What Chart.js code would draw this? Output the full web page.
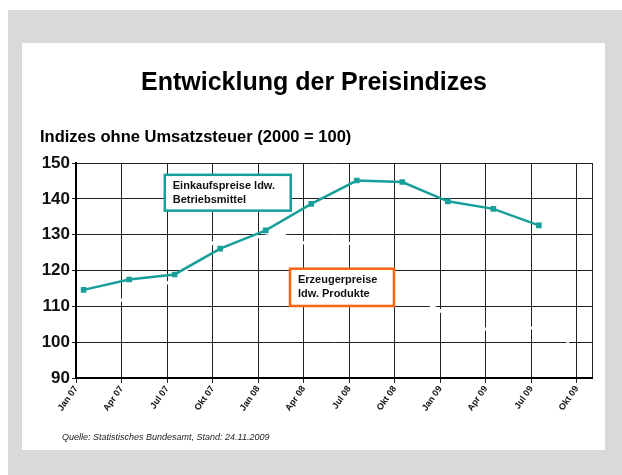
<!DOCTYPE html>
<html>
<head>
<meta charset="utf-8">
<script src="https://cdn.jsdelivr.net/npm/chart.js@4.4.1/dist/chart.umd.min.js"></script>
<style>
  body { margin: 0; background: #fff; }
  #frame { position: absolute; left: 8px; top: 10px; width: 614px; height: 465px; background: #d9d9d9; }
  #panel { position: absolute; left: 22px; top: 43px; width: 583px; height: 407px; background: #fff; }
  #wrap { position: absolute; left: 0; top: 0; width: 622px; height: 475px; }
</style>
</head>
<body>
<div id="frame"></div>
<div id="panel"></div>
<div id="wrap"><canvas id="chart" width="622" height="475"></canvas></div>
<script>
// tick labels every quarter, x axis counts months from Jan 07
const quarterLabels = ['Jan 07', 'Apr 07', 'Jul 07', 'Okt 07', 'Jan 08', 'Apr 08', 'Jul 08', 'Okt 08', 'Jan 09', 'Apr 09', 'Jul 09', 'Okt 09'];
const totalMonths = 34;

// Einkaufspreise ldw. Betriebsmittel (quarterly)
const einkaufMonths = [0, 3, 6, 9, 12, 15, 18, 21, 24, 27, 30];
const einkaufValues = [114.6, 117.5, 118.9, 126.1, 131.2, 138.6, 145.1, 144.7, 139.3, 137.2, 132.6];

// Erzeugerpreise ldw. Produkte (monthly, drawn in white)
const erzeugerValues = [110.5, 111, 111.5, 112, 113.5, 115.5, 117.5, 121, 126, 129.3, 129.4, 129.2,
  129.6, 130.2, 128.5, 127, 127.5, 127.8, 127.3, 124, 120, 116, 112.5, 110,
  107.5, 106, 104, 103.3, 103.6, 103.9, 104, 102, 100];

const yMin = 90, yMax = 150, yStep = 10;

const tealColor = '#189f9a';
const orangeColor = '#ff6414';
const font = 'Arial, "Liberation Sans", sans-serif';

const einkaufData = einkaufValues.map((v, i) => ({ x: einkaufMonths[i] + 0.5, y: v }));
const erzeugerData = erzeugerValues.map((v, i) => ({ x: i + 0.5, y: v }));

// annotation boxes in data units
const boxes = [
  { x0: 5.85, x1: 14.15, y0: 146.7, y1: 136.7, color: tealColor, lines: ['Einkaufspreise ldw.', 'Betriebsmittel'] },
  { x0: 14.1, x1: 20.95, y0: 120.5, y1: 110.1, color: orangeColor, lines: ['Erzeugerpreise', 'ldw. Produkte'] }
];

const decorPlugin = {
  id: 'decor',
  afterDatasetsDraw(chart) {
    const ctx = chart.ctx;
    const xs = chart.scales.x, ys = chart.scales.y;
    ctx.save();
    boxes.forEach(b => {
      const l = xs.getPixelForValue(b.x0), r = xs.getPixelForValue(b.x1);
      const t = ys.getPixelForValue(b.y0), bt = ys.getPixelForValue(b.y1);
      ctx.fillStyle = '#fff';
      ctx.fillRect(l, t, r - l, bt - t);
      ctx.strokeStyle = b.color;
      ctx.lineWidth = 2.5;
      ctx.strokeRect(l, t, r - l, bt - t);
      ctx.fillStyle = '#111';
      ctx.font = 'bold 11px ' + font;
      ctx.textBaseline = 'middle';
      ctx.textAlign = 'left';
      const mid = (t + bt) / 2;
      ctx.fillText(b.lines[0], l + 8, mid - 7);
      ctx.fillText(b.lines[1], l + 8, mid + 7);
    });
    ctx.restore();
  },
  afterDraw(chart) {
    const ctx = chart.ctx;
    ctx.save();
    ctx.fillStyle = '#000';
    ctx.textBaseline = 'middle';
    ctx.textAlign = 'center';
    ctx.font = 'bold 25px ' + font;
    ctx.fillText('Entwicklung der Preisindizes', 314, 83);
    ctx.textAlign = 'left';
    ctx.font = 'bold 16.5px ' + font;
    ctx.fillText('Indizes ohne Umsatzsteuer (2000 = 100)', 40, 137);
    ctx.font = 'italic 9px ' + font;
    ctx.fillStyle = '#222';
    ctx.fillText('Quelle: Statistisches Bundesamt, Stand: 24.11.2009', 62, 437);
    ctx.restore();
  }
};

new Chart(document.getElementById('chart'), {
  type: 'line',
  data: {
    datasets: [
      {
        label: 'Einkaufspreise ldw. Betriebsmittel',
        data: einkaufData,
        borderColor: tealColor,
        backgroundColor: tealColor,
        borderWidth: 2.5,
        pointStyle: 'rect',
        pointRadius: 2.2,
        order: 1
      },
      {
        label: 'Erzeugerpreise ldw. Produkte',
        data: erzeugerData,
        borderColor: '#ffffff',
        borderWidth: 3,
        pointRadius: 0,
        order: 2
      }
    ]
  },
  options: {
    responsive: false,
    animation: false,
    layout: { padding: { left: 30, right: 30, top: 163, bottom: 0 } },
    plugins: { legend: { display: false }, tooltip: { enabled: false } },
    scales: {
      x: {
        type: 'linear',
        min: 0,
        max: totalMonths,
        afterBuildTicks: scale => {
          const ticks = quarterLabels.map((_, i) => ({ value: i * 3 }));
          ticks.push({ value: totalMonths });
          scale.ticks = ticks;
        },
        afterFit: scale => { scale.height = 97; },
        ticks: {
          autoSkip: false,
          minRotation: 55,
          maxRotation: 55,
          padding: 1,
          color: '#111',
          font: { family: font, size: 9, weight: 'bold' },
          callback: v => quarterLabels[v / 3] || ''
        },
        grid: {
          color: '#222',
          lineWidth: 1,
          tickLength: 5,
          tickColor: c => (c.tick && c.tick.value === totalMonths ? 'rgba(0,0,0,0)' : '#222')
        },
        border: { color: '#000', width: 2 }
      },
      y: {
        min: yMin,
        max: yMax,
        afterFit: scale => { scale.width = 46; },
        ticks: {
          stepSize: yStep,
          padding: 2,
          color: '#111',
          font: { family: font, size: 17, weight: 'bold' }
        },
        grid: { color: '#222', lineWidth: 1, tickLength: 4 },
        border: { color: '#000', width: 2 }
      }
    }
  },
  plugins: [decorPlugin]
});
</script>
</body>
</html>
